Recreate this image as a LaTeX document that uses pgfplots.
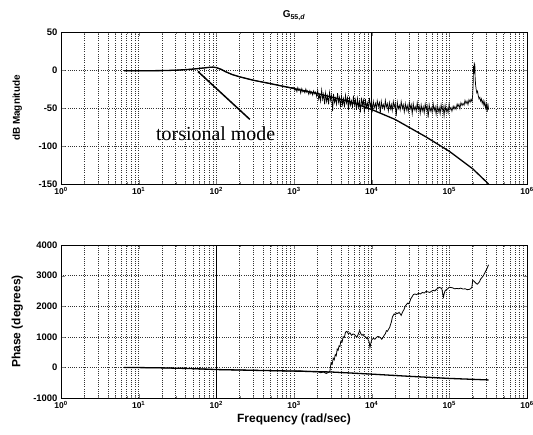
\documentclass[border=0pt]{standalone}
\usepackage{pgfplots}
\pgfplotsset{compat=1.18}
\usepackage{fontspec}
\setmainfont{Liberation Sans}
\newfontfamily\tnr{Liberation Serif}

\pgfplotsset{
  every axis/.append style={
    tick align=inside, xtick pos=both, ytick pos=both,
    major tick length=4bp, minor tick length=2bp,
    grid style={black!80, line width=0.45bp, dash pattern=on 0.6bp off 1.6bp},
    axis line style={line width=0.9bp},
    xticklabel style={font=\fontsize{8.5}{9}\selectfont\bfseries},
    yticklabel style={font=\fontsize{9.5}{10}\selectfont\bfseries},
    /pgf/number format/assume math mode=true,
    /pgf/number format/1000 sep={},
  }
}

\begin{document}
\begin{tikzpicture}
\useasboundingbox (-61bp,-251bp) rectangle (472bp,184bp);

% magnitude
\begin{axis}[at={(0,0)}, anchor=south west,
  scale only axis, width=466bp, height=152bp,
  xmode=log, xmin=1, xmax=1e6,
  xtick={1,10,100,1000,10000,100000,1000000},
  xticklabels={10\textsuperscript{0},10\textsuperscript{1},10\textsuperscript{2},10\textsuperscript{3},10\textsuperscript{4},10\textsuperscript{5},10\textsuperscript{6}},
  xmajorgrids, xminorgrids, ymajorgrids,
  ymin=-150, ymax=50, ytick={-150,-100,-50,0,50},
  scaled y ticks=false,
  ylabel={dB Magnitude},
  ylabel style={at={(axis description cs:-0.094,0.5)}, anchor=center, font=\fontsize{10}{12}\selectfont\bfseries},
  title={G\textsubscript{55,\textit{d}}},
  title style={font=\fontsize{10}{12}\selectfont\bfseries, yshift=2bp},
]
% measured
\addplot[black, line width=0.7bp] coordinates {
(6.5,-1)(8,-1)(10,-1)(15,-1)(20,-0.8)(30,-0.3)(40,0.5)(50,1.3)(60,2)(70,2.8)(80,3.5)(90,3.8)(100,3)
(115,0.5)(130,-2)(160,-6)(200,-9)(250,-11.5)(300,-13.5)(400,-16)(500,-18)(600,-19.5)(700,-21)(800,-22)
(900,-23)
(1000,-22.8)(1030,-26.9)(1060,-24.4)(1090,-28.5)(1120,-23.2)(1150,-26.9)(1190,-24.7)(1220,-30.5)
(1260,-24.5)(1300,-28.8)(1340,-26.9)(1380,-30)(1420,-25)(1460,-29.4)(1500,-27.3)(1550,-32.1)
(1600,-27.2)(1640,-31.2)(1690,-28.7)(1740,-32.9)(1790,-27.5)(1850,-31.3)(1900,-29.1)(1960,-34.9)
(2020,-27.1)(2080,-38.4)(2140,-32.7)(2200,-41)(2270,-26.3)(2340,-38.6)(2410,-31.9)(2480,-45.2)
(2550,-30.4)(2630,-41.7)(2710,-34)(2790,-45.3)(2870,-29.5)(2960,-39.8)(3050,-33.1)(3140,-54)
(3230,-31.5)(3330,-42.8)(3430,-37)(3530,-45.2)(3640,-30.5)(3750,-42.7)(3860,-35.9)(3970,-49.1)
(4090,-34.4)(4210,-45.6)(4340,-37.8)(4470,-49)(4600,-33.2)(4740,-43.4)(4880,-36.6)(5030,-52.9)
(5180,-35.1)(5330,-46.3)(5490,-40.5)(5660,-48.7)(5830,-33.8)(6000,-46)(6180,-39.2)(6370,-52.3)
(6560,-37.5)(6750,-48.7)(6960,-40.9)(7160,-55.7)(7380,-36.3)(7600,-46.5)(7830,-39.7)(8060,-55.9)
(8300,-38.1)(8550,-49.3)(8810,-43.5)(9070,-51.6)(9340,-36.7)(9620,-48.9)(9910,-42)
(10200,-52.6)(10500,-41.4)(10800,-49.7)(11200,-43.8)(11500,-52.2)(11800,-40.3)(12200,-47.9)
(12600,-42.7)(12900,-57.4)(13300,-41.3)(13700,-49.7)(14100,-45.3)(14600,-51.4)(15000,-40.2)
(15400,-49.2)(15900,-44.1)(16400,-53.9)(16900,-42.8)(17400,-51.1)(17900,-45.2)(18400,-53.5)
(19000,-41.6)(19500,-49.2)(20100,-44)(20700,-60.6)(21400,-42.6)(22000,-51)(22700,-46.6)
(23300,-52.7)(24000,-41.5)(24800,-50.6)(25500,-45.5)(26300,-55.3)(27100,-44.2)(27900,-52.5)
(28700,-46.6)(29600,-55)(30500,-43.1)(31400,-50.7)(32300,-45.5)(33300,-57.6)(34300,-44.2)
(35300,-52.6)(36400,-48.2)(37500,-54.3)(38600,-43.1)(39700,-52.2)(40900,-47.1)(42200,-56.9)
(43400,-45.8)(44700,-54.1)(46100,-48.2)(47500,-56.6)(48900,-44.7)(50300,-52.3)(51800,-47)
(53400,-62.7)(55000,-45.7)(56700,-54)(58400,-49.6)(60100,-55.7)(61900,-44.4)(63800,-53.5)
(65700,-48.4)(67600,-58.1)(69700,-47)(71700,-55.2)(73900,-49.3)(76100,-57.6)(78400,-45.7)
(80700,-53.2)(83200,-48)(85600,-60)(88200,-46.5)(90900,-54.8)(93600,-50.3)(96400,-56.3)(99300,-45)
(102000,-52.4)(105000,-49.3)(108000,-54.1)(112000,-47.6)(115000,-51.6)(118000,-48)(122000,-51.8)
(126000,-44.8)(129000,-48.4)(133000,-45)(137000,-50.8)(141000,-43.1)(146000,-46.8)(150000,-43.8)
(155000,-46.4)(159000,-39.9)(164000,-44.2)(169000,-40.9)(174000,-45.6)(179000,-39)(185000,-42.6)
(190000,-38.6)(196000,-41.6)
(200000,-32)(203000,-15)(205000,5)(207000,-5)(209000,10)(211000,0)(213000,8)(215000,-10)
(218000,-20)(222000,-26)(226000,-30)(231000,-28)(236000,-34)(241000,-38)(247000,-36)(253000,-41)
(259000,-38)(265000,-44)(272000,-40)(279000,-47)(286000,-42)(293000,-50)(300000,-45)(307000,-55)
(314000,-44)(320000,-52)
};
% model
\addplot[black, line width=1.3bp] coordinates {
(6.5,-1)(10,-1)(20,-0.8)(30,-0.3)(40,0.5)(50,1.2)(60,2)(70,2.8)(80,3.4)(90,3.8)(100,3.2)(115,1)
(130,-2)(160,-6)(200,-9)(300,-13.5)(500,-18)(1000,-24.5)(2000,-31)(5000,-41)(10000,-52)(20000,-65)
(50000,-88)(100000,-107)(200000,-130)(320000,-150)
};
\draw[black, line width=1bp] (axis cs:10000,-150) -- (axis cs:10000,50);
\draw[black, line width=1.5bp] (axis cs:58,-2) -- (axis cs:270,-65);
\node[font=\tnr\fontsize{20}{22}\selectfont] at (axis cs:98,-84) {torsional mode};
\end{axis}

% phase
\begin{axis}[at={(0,-214bp)}, anchor=south west,
  scale only axis, width=466bp, height=153bp,
  xmode=log, xmin=1, xmax=1e6,
  xtick={1,10,100,1000,10000,100000,1000000},
  xticklabels={10\textsuperscript{0},10\textsuperscript{1},10\textsuperscript{2},10\textsuperscript{3},10\textsuperscript{4},10\textsuperscript{5},10\textsuperscript{6}},
  xmajorgrids, xminorgrids, ymajorgrids,
  ymin=-1000, ymax=4000, ytick={-1000,0,1000,2000,3000,4000},
  scaled y ticks=false,
  ylabel={Phase (degrees)},
  ylabel style={at={(axis description cs:-0.094,0.5)}, anchor=center, font=\fontsize{12}{14}\selectfont\bfseries},
  xlabel={Frequency (rad/sec)},
  xlabel style={font=\fontsize{12}{14}\selectfont\bfseries, yshift=2bp},
]
% measured
\addplot[black, line width=0.8bp] coordinates {
(6.5,0)(10,-3)(20,-15)(50,-40)(100,-70)(200,-85)(300,-95)(500,-105)(800,-115)(1000,-120)(1200,-110)
(1400,-135)(1600,-125)(1800,-150)(2000,-130)(2200,-175)(2400,-150)(2600,-200)(2800,-160)(2900,-120)
(3000,150)(3100,100)(3200,300)(3300,250)(3400,420)(3500,380)(3600,600)(3700,560)(3800,700)(3900,680)
(4000,850)(4150,820)(4300,1000)(4450,980)(4600,1150)(4800,1180)(5000,1100)(5250,1130)(5500,1050)
(5750,1090)(6000,1080)(6250,1020)(6500,1000)(6750,1100)(7000,1200)(7250,1100)(7500,1050)(7750,1080)
(8000,1020)(8300,1000)(8600,950)(8800,980)(9000,900)(9250,850)(9500,650)(9750,780)(10000,900)
(10500,950)(11000,920)(11500,980)(12000,1010)(12500,1000)(13000,970)(13500,920)(14000,980)
(14500,1050)(15000,1100)(15500,1200)(16000,1180)(16500,1250)(17000,1300)(17500,1400)(18000,1500)
(18500,1650)(19000,1700)(19500,1750)(20200,1720)(21000,1780)(21700,1760)(22500,1800)(23200,1760)
(24000,1700)(24700,1780)(25500,1850)(26200,1900)(27000,2000)(28000,2050)(29000,2100)(30000,2080)
(31000,2150)(32000,2250)(33000,2300)(34500,2380)(36000,2400)(38000,2380)(40000,2420)(42500,2400)
(45000,2450)(47500,2430)(50000,2480)(53000,2470)(56000,2450)(59000,2490)(62000,2520)(65000,2500)
(68000,2550)(71000,2580)(74000,2620)(77000,2600)(80000,2580)(82000,2420)(84000,2300)(86000,2420)
(88000,2500)(91000,2540)(94000,2560)(97000,2590)(100000,2620)(105000,2610)(110000,2600)(117000,2570)
(125000,2580)(132000,2570)(140000,2590)(150000,2560)(160000,2570)(170000,2540)(180000,2550)
(188000,2570)(195000,2620)(200000,2850)(207000,2820)(215000,2780)(222000,2740)(230000,2720)
(237000,2760)(245000,2800)(252000,2880)(260000,2920)(267000,2960)(275000,3000)(282000,3060)
(290000,3120)(297000,3170)(305000,3230)(312000,3290)(320000,3350)
};
% model
\addplot[black, line width=1.3bp] coordinates {
(6.5,0)(20,-15)(50,-40)(100,-70)(300,-95)(1000,-120)(3000,-150)(10000,-220)(30000,-290)
(100000,-360)(320000,-410)
};
\draw[black, line width=1bp] (axis cs:100,-1000) -- (axis cs:100,4000);
\end{axis}
\end{tikzpicture}
\end{document}
